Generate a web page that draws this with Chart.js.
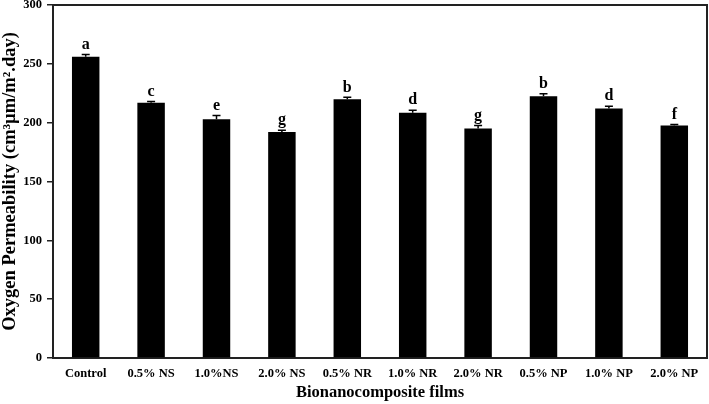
<!DOCTYPE html>
<html>
<head>
<meta charset="utf-8">
<script src="https://cdn.jsdelivr.net/npm/chart.js@4.4.1/dist/chart.umd.min.js"></script>
<style>
html,body{margin:0;padding:0;background:#fff;}
#wrap{width:709px;height:404px;position:relative;}
</style>
</head>
<body>
<div id="wrap"><canvas id="c" width="709" height="404"></canvas></div>
<script>
const categories = ["Control","0.5% NS","1.0%NS","2.0% NS","0.5% NR","1.0% NR","2.0% NR","0.5% NP","1.0% NP","2.0% NP"];
const permeability = [256, 217, 203, 192, 220, 208.5, 195, 222.5, 212, 197.5];
const errors = [2, 1, 3, 1.5, 1.5, 2, 2.5, 2, 2, 1];
const letters = ["a","c","e","g","b","d","g","b","d","f"];
const yTicks = [0,50,100,150,200,250,300];

const serif = "'Liberation Serif', 'Times New Roman', serif";

const annotPlugin = {
  id: 'annot',
  afterDatasetsDraw(chart) {
    const ctx = chart.ctx;
    const meta = chart.getDatasetMeta(0);
    const ys = chart.scales.y;
    const area = chart.chartArea;
    ctx.save();
    ctx.strokeStyle = '#222';
    ctx.lineWidth = 2;
    ctx.beginPath();
    ctx.moveTo(area.left, area.top);
    ctx.lineTo(area.right, area.top);
    ctx.lineTo(area.right, area.bottom);
    ctx.stroke();
    meta.data.forEach((bar, i) => {
      const v = permeability[i];
      const yTop = ys.getPixelForValue(v + errors[i]);
      const yBar = ys.getPixelForValue(v);
      ctx.strokeStyle = '#000';
      ctx.lineWidth = 1.5;
      ctx.beginPath();
      ctx.moveTo(bar.x, yBar);
      ctx.lineTo(bar.x, yTop);
      ctx.moveTo(bar.x - 4, yTop);
      ctx.lineTo(bar.x + 4, yTop);
      ctx.stroke();
      ctx.fillStyle = '#000';
      ctx.font = "bold 16px " + serif;
      ctx.textAlign = 'center';
      ctx.textBaseline = 'bottom';
      ctx.fillText(letters[i], bar.x, yTop - 2);
    });
    ctx.restore();
  }
};

new Chart(document.getElementById('c'), {
  type: 'bar',
  data: {
    labels: categories,
    datasets: [{
      data: permeability,
      backgroundColor: '#000',
      borderWidth: 0,
      categoryPercentage: 1.0,
      barPercentage: 0.42
    }]
  },
  options: {
    responsive: false,
    animation: false,
    devicePixelRatio: 1,
    layout: { padding: { top: 5, right: 2, bottom: 0, left: 0 } },
    plugins: { legend: { display: false }, tooltip: { enabled: false } },
    scales: {
      x: {
        afterFit(scale) { scale.height = 46; scale.paddingLeft = 0; scale.paddingRight = 0; },
        grid: { display: false, drawTicks: false },
        border: { display: true, color: '#222', width: 2 },
        ticks: { color: '#000', font: { family: serif, weight: 'bold', size: 12.5 }, padding: 8, maxRotation: 0, autoSkip: false },
        title: { display: true, text: 'Bionanocomposite films', color: '#000', font: { family: serif, weight: 'bold', size: 16.5 }, padding: { top: 0, bottom: 1 } }
      },
      y: {
        min: 0, max: 300,
        afterBuildTicks(scale) { scale.ticks = yTicks.map(v => ({ value: v })); },
        afterFit(scale) { scale.width = 53; scale.paddingTop = 0; scale.paddingBottom = 0; },
        grid: { drawOnChartArea: false, drawTicks: true, tickLength: 6, color: '#222', lineWidth: 1.5 },
        border: { display: true, color: '#222', width: 2 },
        ticks: { color: '#000', font: { family: serif, weight: 'bold', size: 12.5 }, padding: 5 },
        title: { display: true, text: 'Oxygen Permeability (cm³µm/m².day)', color: '#000', font: { family: serif, weight: 'bold', size: 18.5 }, padding: { top: -1, bottom: 0 } }
      }
    }
  },
  plugins: [annotPlugin]
});
</script>
</body>
</html>
